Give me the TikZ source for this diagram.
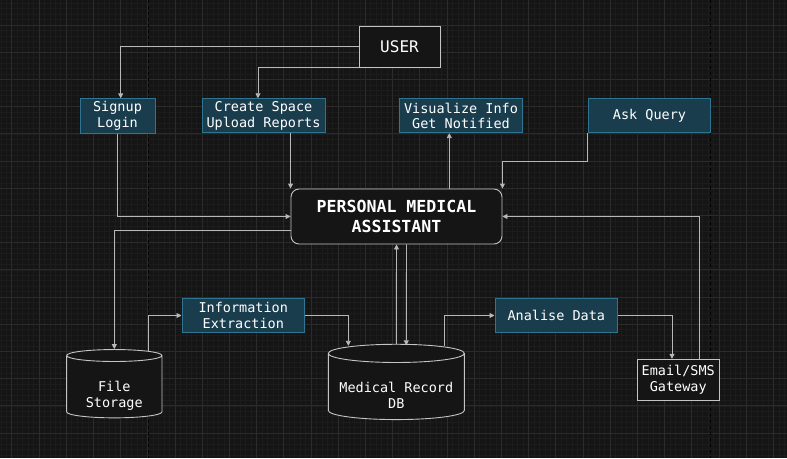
\documentclass[tikz,border=0pt]{standalone}
\usepackage{fontspec}
\setmainfont{DejaVu Sans Mono}
\usepackage{tikz}
\usetikzlibrary{arrows.meta, shapes.geometric}
\definecolor{bg}{HTML}{151515}
\definecolor{minor}{HTML}{1C1C1C}
\definecolor{major}{HTML}{2B2B2B}
\definecolor{wire}{HTML}{B8B8B8}
\definecolor{tealfill}{HTML}{1A3D4E}
\definecolor{tealline}{HTML}{2F7592}
\definecolor{outline}{HTML}{C4C4C4}
\newcommand{\txt}{\fontsize{13.5}{15.5}\selectfont}
% pushes the text of a cylinder below its top face
\newcommand{\capgap}{\rule{0pt}{28pt}}

\begin{document}
\begin{tikzpicture}[x=1pt, y=-1pt,
  task/.style={draw=tealline, fill=tealfill, text=white, line width=0.9pt,
    inner sep=0pt, align=center, font=\txt},
  plain/.style={draw=outline, fill=bg, text=white, line width=0.9pt,
    inner sep=0pt, align=center, font=\txt},
  store/.style={plain, cylinder, shape border rotate=90},
  wire/.style={draw=wire, line width=0.9pt,
    -{Triangle[width=5pt, length=5pt]}}]

  \useasboundingbox (0,0) rectangle (787,458);
  \fill[bg] (0,0) rectangle (787,458);

  % grid
  \foreach \i in {0,...,145} \draw[minor, line width=0.5pt] ({0.82+5.44*\i},0) -- ++(0,458);
  \foreach \i in {0,...,84} \draw[minor, line width=0.5pt] (0,{3.24+5.44*\i}) -- ++(787,0);
  \foreach \i in {0,...,28} \draw[major, line width=0.7pt] ({11.7+27.2*\i},0) -- ++(0,458);
  \foreach \i in {0,...,15} \draw[major, line width=0.7pt] (0,{25+27.2*\i}) -- ++(787,0);
  \draw[major!120, dashed, line width=0.7pt] (148.3,0) -- (148.3,458);
  \draw[major!120, dashed, line width=0.7pt] (710.7,0) -- (710.7,458);

  \node[plain, minimum width=81pt, minimum height=41pt,
    font=\fontsize{16}{18}\selectfont] (user) at (399.5,46.5) {USER};

  \node[task, minimum width=75pt, minimum height=34.5pt] (signup) at (117.5,116) {Signup\\Login};
  \node[task, minimum width=123pt, minimum height=34pt] (create) at (263.5,115.7) {Create Space\\Upload Reports};
  \node[task, minimum width=123.4pt, minimum height=34pt] (visual) at (461,115.7) {Visualize Info\\Get Notified};
  \node[task, minimum width=122.4pt, minimum height=34pt] (ask) at (649.5,115.7) {Ask Query};

  \node[plain, rounded corners=8pt, minimum width=211pt, minimum height=55pt,
    font=\bfseries\fontsize{16.6}{19.5}\selectfont] (pma) at (396.5,216.5) {PERSONAL MEDICAL\\ASSISTANT};

  \node[task, minimum width=122.7pt, minimum height=34.4pt] (infoext) at (243.3,315.5) {Information\\Extraction};
  \node[task, minimum width=122.7pt, minimum height=34.4pt] (analise) at (556.3,315.5) {Analise Data};

  \node[store, aspect=0.21, minimum width=95.3pt, minimum height=68.3pt] (files) at (114.3,386.9) {\capgap File\\Storage};
  \node[store, aspect=0.16, minimum width=136pt, minimum height=75.3pt] (meddb) at (396.3,386.7) {\capgap Medical Record\\DB};

  \node[plain, minimum width=82pt, minimum height=41pt] (email) at (678.3,379.8) {Email/SMS\\Gateway};

  % connectors
  \draw[wire] (user.west) -| ([xshift=3.2pt]signup.north);
  \draw[wire] (user.south west) -| ([xshift=-5.5pt]create.north);
  \draw[wire] (signup.south) |- (pma.west);
  \draw[wire] (create.south -| pma.north west) -- (pma.north west);
  \draw[wire] ([xshift=-11.7pt]visual.south |- pma.north) -- ([xshift=-11.7pt]visual.south);
  \draw[wire] (ask.south west) -- ++(0,28.3) -| (pma.north east);
  \draw[wire] ([xshift=20.7pt]email.north) |- (pma.east);
  \draw[wire] ([yshift=-13.5pt]pma.west) -| (files.north);
  \draw[wire] ([xshift=33.7pt, yshift=-3pt]files.north) |- (infoext.west);
  \draw[wire] (infoext.east) -| ([xshift=-48pt, yshift=-2pt]meddb.north);
  \draw[wire] (meddb.north) -- (pma.south);
  \draw[wire] ([xshift=10pt]pma.south) -- ([xshift=10pt, yshift=-1.5pt]meddb.north);
  \draw[wire] ([xshift=48pt, yshift=-2pt]meddb.north) |- (analise.west);
  \draw[wire] (analise.east) -| ([xshift=-6.3pt]email.north);

\end{tikzpicture}
\end{document}
